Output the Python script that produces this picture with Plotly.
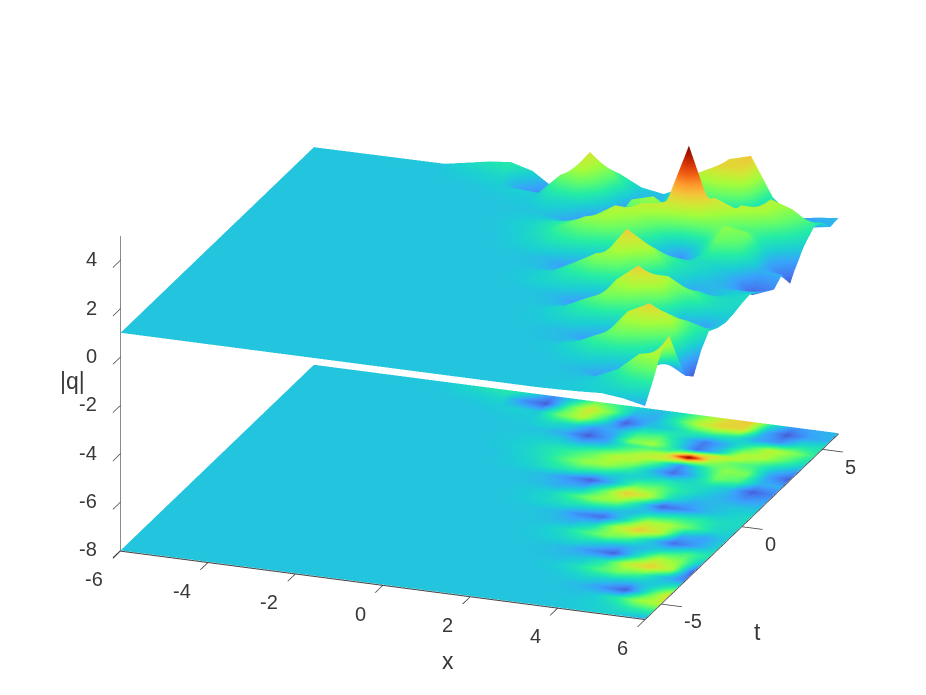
import plotly.graph_objects as go

x_vals = [-6, -3, -2, -1.5, -1, -0.5, 0, 0.5, 1, 1.5, 2, 2.5, 3, 3.5, 4, 4.5, 5, 5.5, 6]
t_vals = [-6, -5.5, -5, -4.5, -4, -3.5, -3, -2.5, -2, -1.5, -1, -0.5, 0, 0.5, 1, 1.5, 2, 2.5, 3, 3.25, 3.5, 3.75, 4, 4.5, 5, 5.5, 6]
x_ticks = [-6, -4, -2, 0, 2, 4, 6]
t_ticks = [-5, 0, 5]
z_ticks = [-8, -6, -4, -2, 0, 2, 4]

q_abs = [
    [1, 1, 1, 1, 1, 1, 1, 1, 1, 1, 1, 1, 1, 1, 1.02, 1.05, 1.1, 1.0, 0.8],
    [1, 1, 1, 1, 1, 1, 1, 1, 1, 1, 1, 1, 1, 1, 1.03, 1.08, 1.2, 1.45, 1.55],
    [1, 1, 1, 1, 1, 1, 1, 1, 1, 1, 1, 1, 1, 1, 0.97, 1.05, 1.45, 2.2, 2.4],
    [1, 1, 1, 1, 1, 1, 1, 1, 1, 1, 1, 1, 1, 0.98, 0.9, 0.6, 0.12, 1.45, 2.75],
    [1, 1, 1, 1, 1, 1, 1, 1, 1, 1, 1, 1, 1, 1.08, 1.2, 1.1, 0.95, 1.05, 1.55],
    [1, 1, 1, 1, 1, 1, 1, 1, 1, 1, 1, 1, 1.05, 1.28, 1.7, 1.95, 1.65, 0.95, 0.45],
    [1, 1, 1, 1, 1, 1, 1, 1, 1, 1, 1, 0.97, 0.92, 1.02, 1.42, 2.45, 2.9, 2.3, 0.1],
    [1, 1, 1, 1, 1, 1, 1, 1, 1, 1, 1, 0.97, 0.86, 0.55, 0.15, 1.25, 2.35, 2.05, 0.9],
    [1, 1, 1, 1, 1, 1, 1, 1, 1, 1, 1.03, 1.13, 1.25, 1.12, 0.88, 0.9, 1.3, 1.65, 1.4],
    [1, 1, 1, 1, 1, 1, 1, 1, 1, 1, 1.05, 1.25, 1.68, 2.05, 1.8, 1.05, 0.25, 0.7, 1.15],
    [1, 1, 1, 1, 1, 1, 1, 1, 1, 1, 0.93, 0.87, 1.17, 2.25, 2.95, 2.4, 0.9, 0.7, 1.05],
    [1, 1, 1, 1, 1, 1, 1, 1, 1, 1, 0.9, 0.5, 0.25, 1.16, 2.3, 2.3, 1.8, 1.25, 1.1],
    [1, 1, 1, 1, 1, 1, 1, 1, 1.05, 1.17, 1.3, 1.29, 1.12, 0.9, 1.2, 1.44, 1.49, 1.26, 1.2],
    [1, 1, 1, 1, 1, 1, 1, 1, 1.05, 1.2, 1.65, 2.15, 2.1, 1.23, 0.2, 0.5, 0.9, 1.1, 1.25],
    [1, 1, 1, 1, 1, 1, 1, 1, 0.93, 0.8, 0.93, 1.81, 2.95, 2.4, 1.24, 0.82, 0.9, 1.0, 1.0],
    [1, 1, 1, 1, 1, 1, 1, 1, 0.9, 0.6, 0.15, 0.9, 1.82, 1.9, 1.45, 1.1, 0.85, 0.6, 0.75],
    [1, 1, 1, 1, 1, 1, 1.05, 1.17, 1.4, 1.5, 1.32, 1.1, 1.15, 1.35, 1.25, 1.25, 0.95, 0.15, 0.5],
    [1, 1, 1, 1, 1, 1, 1.1, 1.3, 1.7, 2.15, 2.2, 1.75, 1.0, 0.25, 0.95, 1.9, 1.7, 0.85, 0.8],
    [1, 1, 1, 1, 1, 1.05, 1.15, 1.35, 1.55, 1.85, 2.4, 2.35, 1.7, 0.6, 1.35, 2.1, 2.0, 0.75, 0.1],
    [1, 1, 1, 1, 1, 1.03, 1.12, 1.25, 1.3, 1.6, 2.0, 2.45, 2.55, 2.3, 1.9, 1.95, 1.75, 0.85, 0.45],
    [1, 1, 1, 1, 1, 1.03, 1.08, 1.1, 0.95, 1.15, 1.65, 2.1, 2.5, 4.9, 2.4, 1.85, 1.65, 1.15, 0.7],
    [1, 1, 1, 1, 1, 1.02, 1.03, 0.95, 0.55, 0.8, 1.5, 1.7, 1.6, 2.4, 2.7, 2.35, 1.9, 1.45, 1.0],
    [1, 1, 1, 1, 1, 1.0, 0.98, 0.75, 0.12, 0.7, 2.0, 2.25, 1.3, 0.3, 1.1, 2.35, 2.35, 1.75, 1.2],
    [1, 1, 1, 1, 1.02, 1.05, 1.25, 1.15, 0.65, 0.85, 1.55, 1.7, 1.1, 0.4, 0.85, 1.6, 2.4, 2.1, 1.5],
    [1, 1, 1, 1.05, 1.1, 1.05, 1.9, 2.4, 1.45, 0.15, 0.9, 1.1, 1.5, 1.6, 1.35, 0.75, 0.6, 1.25, 1.35],
    [1, 1, 1.1, 1.2, 0.55, 0.12, 1.6, 2.65, 1.9, 0.85, 0.8, 1.5, 2.4, 2.85, 2.75, 0.9, 0.12, 0.7, 0.85],
    [1, 1.02, 1.35, 1.45, 1.2, 0.6, 1.1, 1.85, 1.55, 1.1, 0.95, 1.35, 2.0, 2.75, 3.0, 1.4, 0.65, 0.8, 0.9],
]

z_floor = -8
color_min = -0.45
color_max = 4.9
fig_w = 918
fig_h = 687
label_color = '#383838'
tick_font = dict(family='Liberation Sans', size=20, color=label_color)
title_font = dict(family='Liberation Sans', size=23, color=label_color)
flat_light = dict(ambient=1, diffuse=0, specular=0, roughness=1, fresnel=0)

fig = go.Figure()
fig.add_trace(go.Surface(x=x_vals, y=t_vals, z=q_abs, surfacecolor=q_abs,
                         colorscale='Turbo', cmin=color_min, cmax=color_max,
                         showscale=False, lighting=flat_light, hoverinfo='skip'))
# same values projected on the floor of the box
fig.add_trace(go.Surface(x=x_vals, y=t_vals, z=[[z_floor] * len(x_vals) for _ in t_vals],
                         surfacecolor=q_abs,
                         colorscale='Turbo', cmin=color_min, cmax=color_max,
                         showscale=False, lighting=flat_light, hoverinfo='skip'))


def axis_style(this_range, this_ticks, this_side, this_line):
    return dict(range=this_range, tickvals=this_ticks, showticklabels=False,
                title_text='', showgrid=False, zeroline=False, showbackground=False,
                showspikes=False, showline=True, linecolor=this_line, linewidth=2,
                ticks=this_side, ticklen=22, tickcolor='#404040', tickwidth=2)


def label(this_x, this_t, this_z, text, font, anchor, dx, dy):
    return dict(x=this_x, y=this_t, z=this_z, text=text, showarrow=False, font=font,
                xanchor=anchor, yanchor='middle', xshift=dx, yshift=dy)


# the gl tick labels cannot be moved, so they hang off the data points instead
scene_labels = (
    [label(v, -6, z_floor, str(v), tick_font, 'right', -15, -29) for v in x_ticks]
    + [label(6, v, z_floor, str(v), tick_font, 'left', 21, -18) for v in t_ticks]
    + [label(-6, -6, v, str(v), tick_font, 'right', -21, 1) for v in z_ticks]
    + [label(2, -6, z_floor, 'x', title_font, 'center', -22, -65),
       label(6, 0, z_floor, 't', title_font, 'center', 16, -106),
       label(-6, -6, -1, '|q|', title_font, 'center', -48, 0)]
)

fig.update_layout(
    width=fig_w, height=fig_h,
    margin=dict(l=0, r=0, t=0, b=0),
    paper_bgcolor='white',
    showlegend=False,
    scene=dict(
        domain=dict(x=[25 / fig_w, 1], y=[33 / fig_h, 1]),
        xaxis=axis_style([-6, 6], x_ticks, 'inside', '#404040'),
        yaxis=axis_style([-6, 6], t_ticks, 'outside', '#404040'),
        zaxis=axis_style([-8.03, 5], z_ticks, 'inside', '#8c8c8c'),
        aspectmode='manual',
        aspectratio=dict(x=1.71, y=1.71, z=1.03),
        camera=dict(projection=dict(type='orthographic'),
                    eye=dict(x=0.404, y=-1.096, z=0.442),
                    center=dict(x=0, y=0, z=0),
                    up=dict(x=0, y=0, z=1)),
        annotations=scene_labels,
    ),
)

fig.write_html("out.html")
